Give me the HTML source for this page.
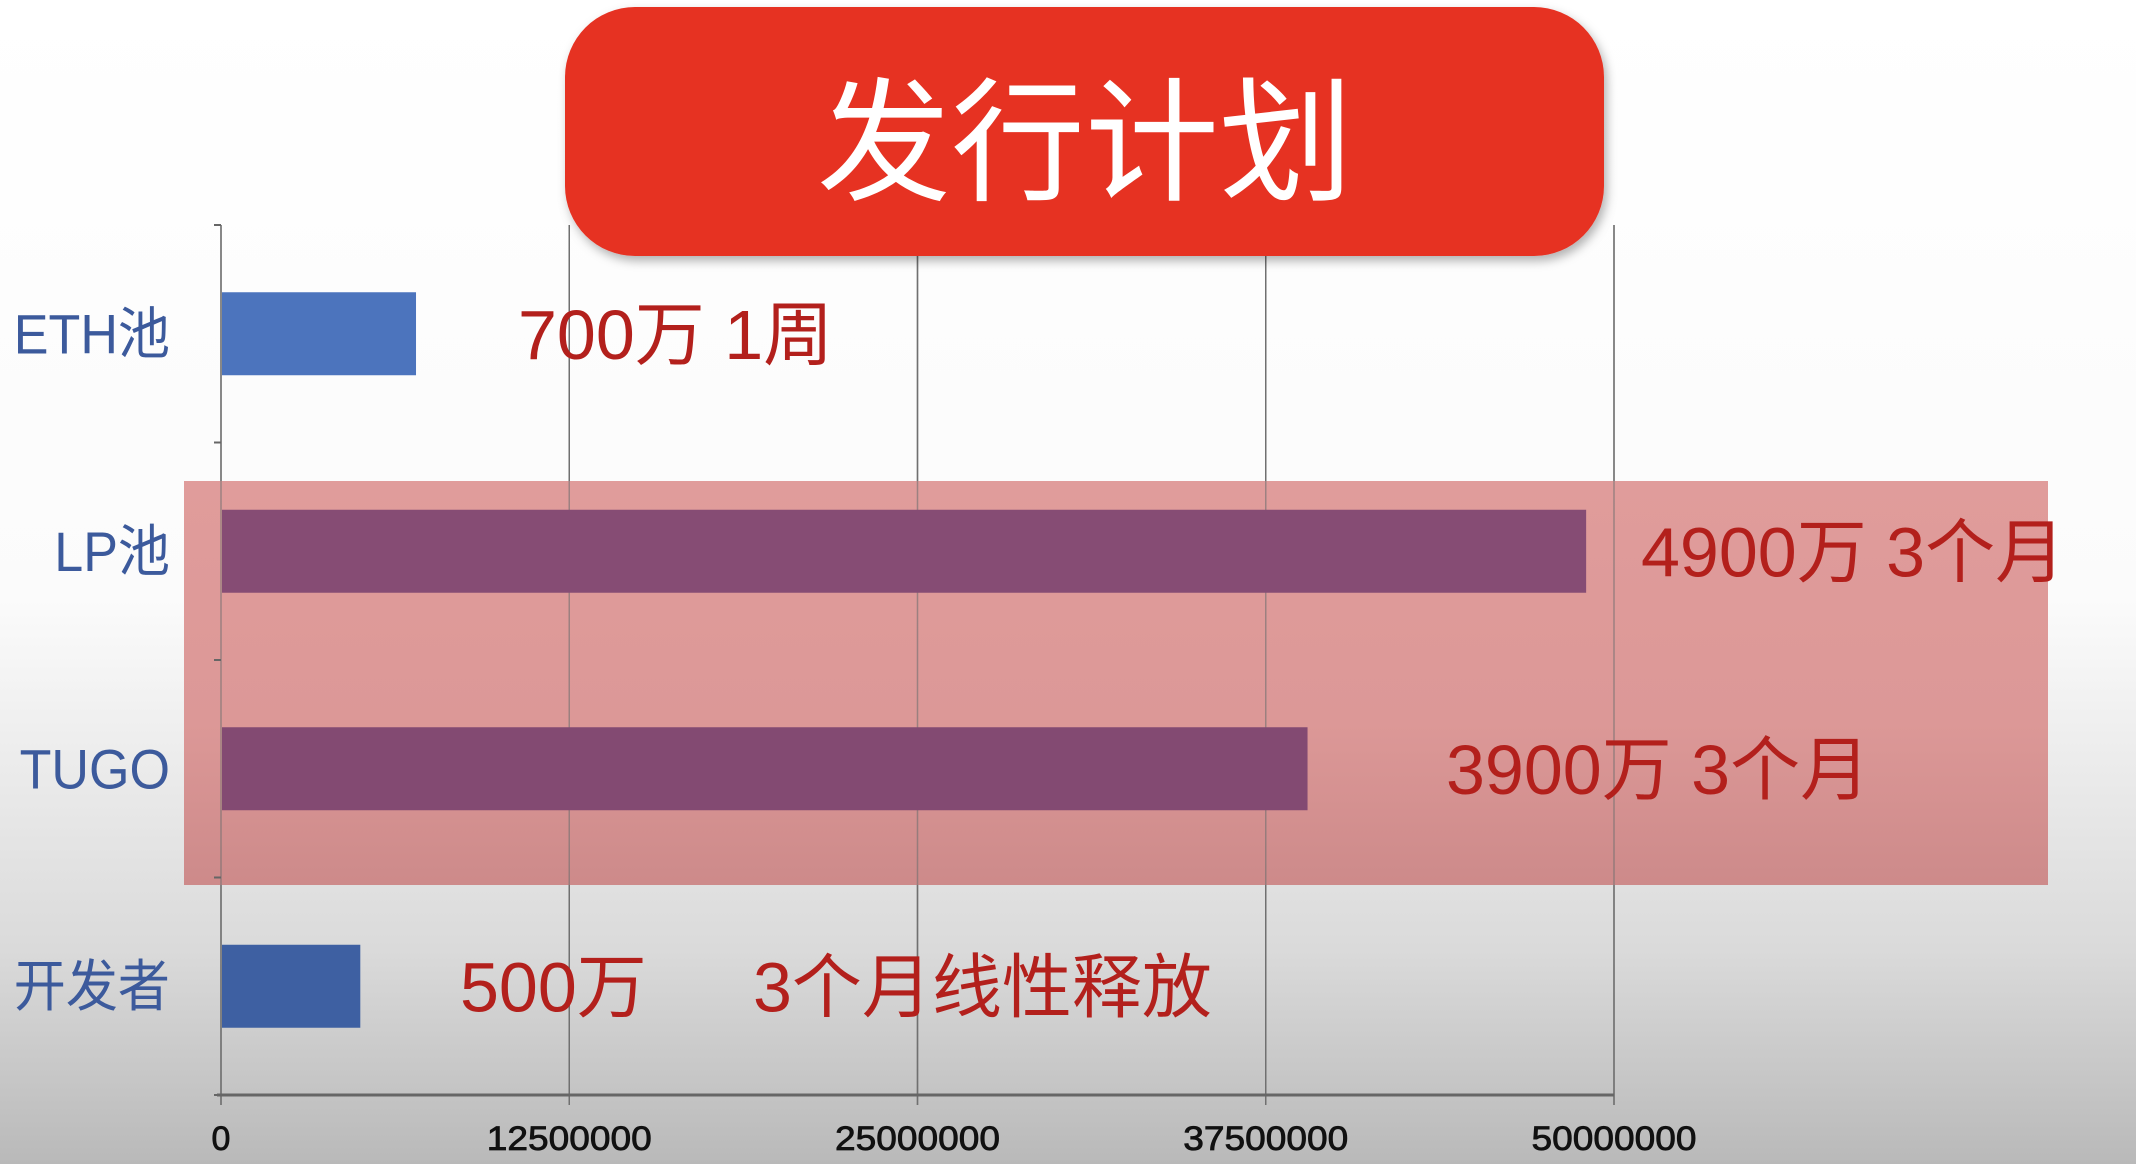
<!DOCTYPE html>
<html><head><meta charset="utf-8"><style>
html,body{margin:0;padding:0;}
body{width:2136px;height:1164px;overflow:hidden;background:linear-gradient(#ffffff 0px,#fbfbfb 600px,#dadada 950px,#b9b9b9 1164px);font-family:"Liberation Sans","Noto Sans CJK SC",sans-serif;}
</style></head><body>
<svg id="chart" width="2136" height="1164" xmlns="http://www.w3.org/2000/svg" style="position:absolute;left:0;top:0">
<defs>
<linearGradient id="hl" x1="0" y1="0" x2="0" y2="1"><stop offset="0" stop-color="#e09c9b"/><stop offset="0.6" stop-color="#dc9897"/><stop offset="1" stop-color="#cd8a8a"/></linearGradient>
<filter id="sh" x="-5%" y="-10%" width="110%" height="130%"><feDropShadow dx="3" dy="5" stdDeviation="5" flood-color="#000" flood-opacity="0.3"/></filter>
</defs>
<g id="grid"></g>
<rect x="184" y="481" width="1864" height="404" fill="url(#hl)"/>
<g id="grid2"></g>
<g id="bars"></g>
<g id="labels"></g>
<rect x="565" y="7" width="1039" height="249" rx="70" fill="#e63123" filter="url(#sh)"/>
<text x="1085" y="190" text-anchor="middle" font-size="134" fill="#fff" font-family="'Liberation Sans','Noto Sans CJK SC',sans-serif">发行计划</text>
</svg>
<script>
const categories = ["ETH池","LP池","TUGO","开发者"];
const values = [7000000,49000000,39000000,5000000];
const barColors = ["#4c74bd","#864c74","#834a72","#3e60a2"];
const annotations = [["700万 1周"],["4900万 3个月"],["3900万 3个月"],["500万","3个月线性释放"]];
const ticks = [0,12500000,25000000,37500000,50000000];
const tickLabels = ["0","12500000","25000000","37500000","50000000"];

const NS="http://www.w3.org/2000/svg";
const x0=221,x1=1614,yTop=225,yBot=1095,maxV=50000000;
const xs=v=>x0+(v/maxV)*(x1-x0);
const band=(yBot-yTop)/categories.length;
const yc=i=>yTop+band*(i+0.5);
function mk(tag,attrs,parent){const e=document.createElementNS(NS,tag);for(const k in attrs)e.setAttribute(k,attrs[k]);parent.appendChild(e);return e;}
const grid=document.getElementById('grid'),grid2=document.getElementById('grid2'),bars=document.getElementById('bars'),labels=document.getElementById('labels');
ticks.forEach((t,i)=>{
  [grid,grid2].forEach(g=>{
    const l=mk('line',{x1:xs(t),x2:xs(t),y1:yTop,y2:yBot+10,stroke:'#707070','stroke-width':1.5,'stroke-opacity':g===grid2?0.6:1},g);
    
    
  });
  const tx=mk('text',{x:xs(t),y:1150,'text-anchor':'middle','font-size':34,fill:'#111',stroke:'#111','stroke-width':0.8},labels);
  tx.textContent=tickLabels[i];
  if(t!==0){tx.setAttribute('textLength',165);tx.setAttribute('lengthAdjust','spacingAndGlyphs');}
  
  
});
const ax=mk('line',{x1:x0-4,x2:x1,y1:yBot,y2:yBot,stroke:'#666','stroke-width':3},labels);


for(let i=0;i<=categories.length;i++){
  const tk=mk('line',{x1:x0-7,x2:x0,y1:yTop+band*i,y2:yTop+band*i,stroke:'#666','stroke-width':2},labels);
  
  
}
categories.forEach((c,i)=>{
  const bh=83;
  const r=mk('rect',{x:x0+1,y:yc(i)-bh/2,width:xs(values[i])-x0-1,height:bh,fill:barColors[i]},bars);
  
  
  const lb=mk('text',{x:170,y:yc(i)+20,'text-anchor':'end','font-size':56,fill:'#3c5a9c',transform:'translate(170 0) scale(0.93 1) translate(-170 0)'},labels);
  lb.textContent=c;
  
  
  const ann=annotations[i];
  const bx=[518,1641,1446,460][i];
  const a=mk('text',{x:bx,y:yc(i)+25,'font-size':70,fill:'#b3201c'},labels);
  a.textContent=ann[0];
  
  
  if(ann[1]){
    const a2=mk('text',{x:753,y:yc(i)+25,'font-size':70,fill:'#b3201c'},labels);
    a2.textContent=ann[1];
    
    
  }
});
</script>
</body></html>
